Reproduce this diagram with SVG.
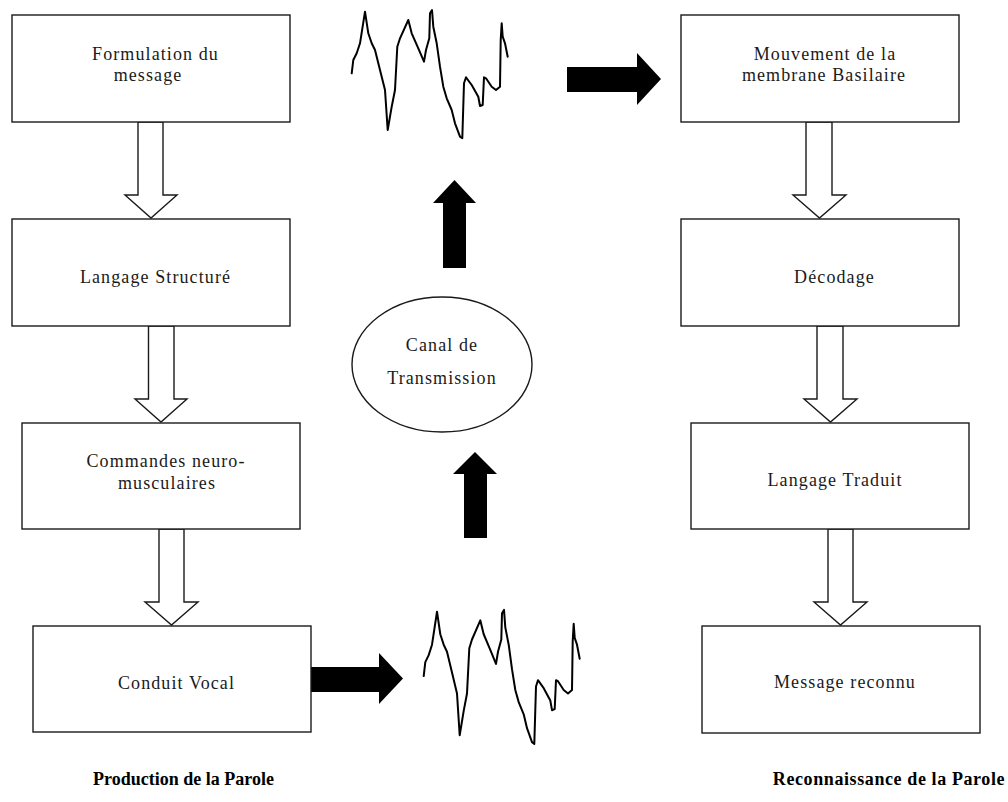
<svg xmlns="http://www.w3.org/2000/svg" xmlns:xlink="http://www.w3.org/1999/xlink" width="1008" height="802" viewBox="0 0 1008 802">
  <style>
    .box { fill: #ffffff; stroke: #1a1a1a; stroke-width: 1.4; }
    .lbl { font-family: "Liberation Serif", "Times New Roman", serif; font-size: 18px; letter-spacing: 1.1px; fill: #1a1a1a; text-anchor: middle; }
    .title { font-family: "Liberation Serif", "Times New Roman", serif; font-size: 18px; font-weight: bold; fill: #000; text-anchor: middle; }
    .hollow { fill: #ffffff; stroke: #1a1a1a; stroke-width: 1.4; stroke-linejoin: miter; }
    .solid { fill: #000000; stroke: none; }
    .wave { fill: none; stroke: #000; stroke-width: 2; stroke-linejoin: round; stroke-linecap: round; }
  </style>
  <defs>
    <!-- speech signal trace, drawn once and reused -->
    <polyline id="signal" class="wave" points="351.7,73.3 353.3,60 356.7,53.3 360,43.3 365,11.7 368.3,33.3 371.7,43.3 375,50 380,70 385,90 387.7,130 391.7,106.7 395,90 397.3,46.7 400,38.3 408.3,20 411.7,33.3 418.3,48.3 424,61.7 426,50 429.3,38.3 430,13.3 432,10 433.3,26.7 436.7,43.3 440,66.7 443.3,86.7 446.7,98.3 451.7,110 455,123.3 460,136.7 462.3,138.3 464,83.3 466,77.3 471.7,85 478.3,96.7 480,106 482.7,105 484,77.3 486,78.3 491.7,86.7 496,90 500,86.7 500.7,40 501.7,23.3 502.7,36.7 505,43.3 507.7,56.7"/>
  </defs>

  <rect width="1008" height="802" fill="#ffffff"/>

  <!-- connectors -->
  <g id="connectors">
    <!-- hollow arrows, production side -->
    <polygon class="hollow" points="138,122 163,122 163,195 177,195 151,218 125,195 138,195"/>
    <polygon class="hollow" points="148.5,326 174,326 174,399 187,399 161,422 135,399 148.5,399"/>
    <polygon class="hollow" points="159,529 184,529 184,602 198,602 171.5,625 145,602 159,602"/>
    <!-- hollow arrows, recognition side -->
    <polygon class="hollow" points="806,122 832,122 832,195 846,195 819.5,218 793,195 806,195"/>
    <polygon class="hollow" points="817,326 843,326 843,399 857,399 830.5,422 804,399 817,399"/>
    <polygon class="hollow" points="828,529 853,529 853,602 867,602 840.5,625 814,602 828,602"/>
    <!-- solid arrows along the transmission path -->
    <polygon class="solid" points="311,667 379,667 379,653 403,678.5 379,704 379,692 311,692"/>
    <polygon class="solid" points="464,538 464,474 453,474 475,452 497,474 487,474 487,538"/>
    <polygon class="solid" points="443,268 443,203 433,203 454.5,180 476,203 466,203 466,268"/>
    <polygon class="solid" points="567,67 637,67 637,53 661,79 637,105 637,92 567,92"/>
  </g>

  <!-- signal traces -->
  <g id="signal-out"><use xlink:href="#signal" transform="translate(72,599.5) scale(1,1.044)"/></g>
  <g id="signal-in"><use xlink:href="#signal"/></g>

  <!-- production column -->
  <g id="formulation">
    <rect class="box" x="12" y="15" width="278" height="107"/>
    <text class="lbl" x="155.5" y="60">Formulation du</text>
    <text class="lbl" x="148" y="81">message</text>
  </g>
  <g id="langage-structure">
    <rect class="box" x="12" y="219" width="278" height="107"/>
    <text class="lbl" x="155.5" y="283">Langage Structuré</text>
  </g>
  <g id="commandes">
    <rect class="box" x="22" y="423" width="278" height="106"/>
    <text class="lbl" x="166" y="467">Commandes neuro-</text>
    <text class="lbl" x="167" y="489">musculaires</text>
  </g>
  <g id="conduit-vocal">
    <rect class="box" x="33" y="626" width="278" height="106"/>
    <text class="lbl" x="176.5" y="689">Conduit Vocal</text>
  </g>

  <!-- transmission channel -->
  <g id="canal">
    <ellipse class="box" cx="442" cy="364.5" rx="90" ry="67.5"/>
    <text class="lbl" x="442" y="351">Canal de</text>
    <text class="lbl" x="442" y="384">Transmission</text>
  </g>

  <!-- recognition column -->
  <g id="membrane">
    <rect class="box" x="681" y="15" width="278" height="107"/>
    <text class="lbl" x="825" y="60">Mouvement de la</text>
    <text class="lbl" x="824" y="81">membrane Basilaire</text>
  </g>
  <g id="decodage">
    <rect class="box" x="681" y="219" width="278" height="107"/>
    <text class="lbl" x="834.5" y="283">Décodage</text>
  </g>
  <g id="langage-traduit">
    <rect class="box" x="691" y="423" width="278" height="106"/>
    <text class="lbl" x="835" y="486">Langage Traduit</text>
  </g>
  <g id="message-reconnu">
    <rect class="box" x="702" y="626" width="278" height="107"/>
    <text class="lbl" x="845" y="688">Message reconnu</text>
  </g>

  <!-- column captions -->
  <g id="captions">
    <text class="title" x="183.5" y="785">Production de la Parole</text>
    <text class="title" x="889" y="785" style="letter-spacing:0.6px">Reconnaissance de la Parole</text>
  </g>
</svg>
